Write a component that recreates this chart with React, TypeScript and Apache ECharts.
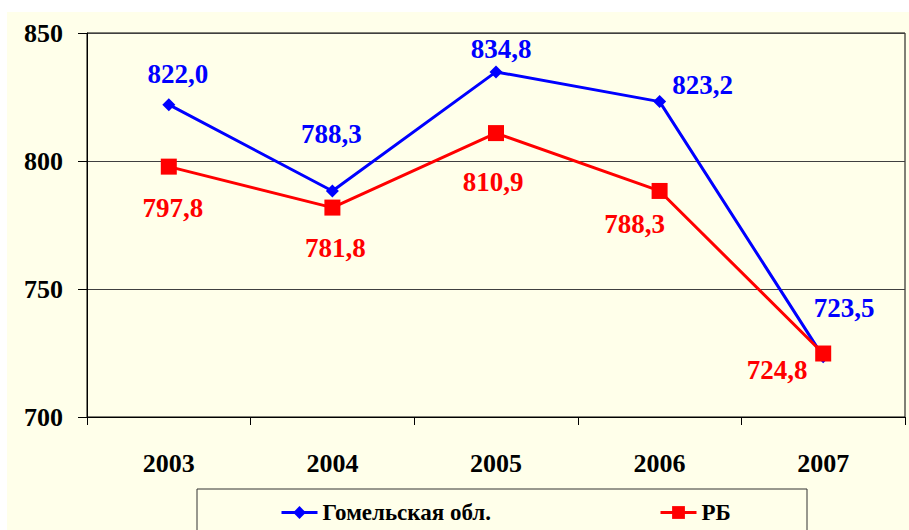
import React, { useEffect, useRef } from "react";
import * as echarts from "echarts";

const years = ["2003", "2004", "2005", "2006", "2007"];
const gomelValues = [822.0, 788.3, 834.8, 823.2, 723.5];
const rbValues = [797.8, 781.8, 810.9, 788.3, 724.8];
const seriesNames = ["Гомельская обл.", "РБ"];
const yTicks = { min: 700, max: 850, interval: 50 };
// label offsets (pixels from point centre)
const gomelOffsets: [number, number][] = [[9, -31], [-1, -57], [5, -23], [43, -17], [21, -49]];
const rbOffsets: [number, number][] = [[4, 41], [3, 40], [-3, 49], [-25, 33], [-46, 16]];

const FONT = "'Liberation Serif', 'Times New Roman', serif";
const fmt = (v: number) => v.toFixed(1).replace(".", ",");

export default function App() {
  const ref = useRef<HTMLDivElement>(null);
  useEffect(() => {
    if (!ref.current) return;
    const chart = echarts.init(ref.current, undefined, { renderer: "svg" });
    const mk = (vals: number[], offs: [number, number][], color: string) =>
      vals.map((v, i) => ({
        value: v,
        label: {
          show: true,
          position: "inside",
          offset: offs[i],
          formatter: fmt(v),
          color,
          fontFamily: FONT,
          fontWeight: "bold",
          fontSize: 27,
          align: "center",
          verticalAlign: "middle",
        },
      }));
    chart.setOption({
      animation: false,
      backgroundColor: "#FFFFEA",
      textStyle: { fontFamily: FONT },
      grid: {
        left: 80,
        top: 21,
        right: 4,
        bottom: 113,
        show: true,
        borderColor: "#000",
        borderWidth: 1,
        backgroundColor: "transparent",
      },
      legend: {
        left: 273,
        top: 489,
        padding: 0,
        itemWidth: 36,
        itemHeight: 16,
        itemGap: 168,
        lineStyle: { width: 3 },
        textStyle: { fontFamily: FONT, fontWeight: "bold", fontSize: 23, color: "#000" },
        data: seriesNames,
      },
      graphic: [
        {
          type: "rect",
          shape: { x: 190, y: 477, width: 610, height: 60 },
          style: { fill: "none", stroke: "#333", lineWidth: 1 },
          z: 0,
        },
      ],
      xAxis: {
        type: "category",
        data: years,
        boundaryGap: true,
        axisLine: { lineStyle: { color: "#000", width: 1 } },
        axisTick: { show: true, length: 8, lineStyle: { color: "#000" } },
        axisLabel: {
          margin: 33,
          fontFamily: FONT,
          fontWeight: "bold",
          fontSize: 26,
          color: "#000",
        },
      },
      yAxis: {
        type: "value",
        min: yTicks.min,
        max: yTicks.max,
        interval: yTicks.interval,
        axisLine: { show: true, lineStyle: { color: "#000", width: 1 } },
        axisTick: { show: true, length: 9, lineStyle: { color: "#000" } },
        splitLine: { show: true, lineStyle: { color: "#404040", width: 1 } },
        axisLabel: {
          margin: 24,
          fontFamily: FONT,
          fontWeight: "bold",
          fontSize: 26,
          color: "#000",
        },
      },
      series: [
        {
          name: seriesNames[0],
          type: "line",
          data: mk(gomelValues, gomelOffsets, "#0000FF"),
          symbol: "diamond",
          symbolSize: 13,
          lineStyle: { color: "#0000FF", width: 3 },
          itemStyle: { color: "#0000FF" },
          z: 2,
        },
        {
          name: seriesNames[1],
          type: "line",
          data: mk(rbValues, rbOffsets, "#FF0000"),
          symbol: "rect",
          symbolSize: 16,
          lineStyle: { color: "#FF0000", width: 3 },
          itemStyle: { color: "#FF0000" },
          z: 3,
        },
      ],
    });
    return () => chart.dispose();
  }, []);
  return (
    <div
      ref={ref}
      style={{ position: "absolute", left: 7, top: 12, width: 902, height: 518 }}
    />
  );
}
